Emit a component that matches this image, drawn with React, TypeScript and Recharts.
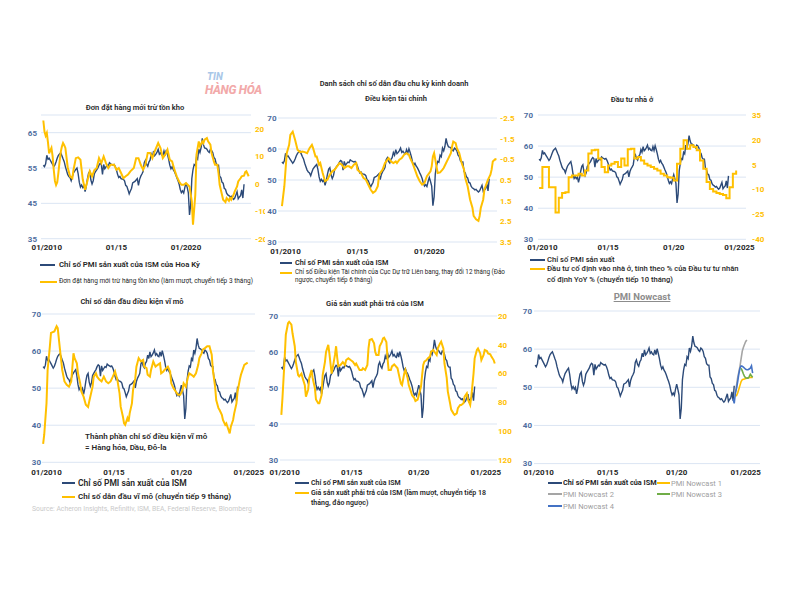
import { LineChart, Line, XAxis, YAxis, CartesianGrid } from "recharts";

const FONT = "Roboto, 'Noto Sans', Arial, sans-serif";
const NAVY = "#2c4a78";
const GOLD = "#ffc000";
const GRID = "#dbe5f3";
const AXIS_BLUE = "#4e6e9f";
const DARK = "#262626";

// month index: 0 = 10/2009
const janTicks = [3, 63, 123, 183];
const labelsShort = ["01/2010", "01/15", "01/2020"];
const labelsLong = ["01/2010", "01/15", "01/20", "01/2025"];

// ISM manufacturing PMI, monthly 10/2009 - 03/2024
const pmi = [
  55.8, 55.4, 56.2,
  58.6, 57.5, 57.8, 57.2, 56.6, 56.0, 55.4, 55.9, 56.8, 57.8, 58.6, 59.0,
  59.3, 58.5, 57.6, 56.8, 55.4, 54.3, 53.2, 52.6, 52.3, 51.4, 52.6, 53.6,
  54.1, 54.6, 55.0, 53.4, 51.0, 49.6, 50.2, 49.5, 50.0, 48.3, 49.8, 51.9,
  53.5, 54.0, 51.6, 50.5, 51.4, 53.4, 54.0, 54.5, 55.0, 55.8, 56.3, 56.0,
  53.2, 56.0, 54.8, 55.3, 55.8, 55.6, 56.5, 56.2, 56.0, 55.8, 56.0, 55.4,
  54.5, 53.2, 52.3, 52.6, 52.0, 51.9, 51.8, 51.4, 50.1, 49.8, 48.8, 47.7,
  48.5, 49.2, 50.8, 51.0, 51.2, 51.6, 52.0, 50.1, 51.8, 52.7, 53.3, 54.0,
  56.5, 57.2, 56.0, 55.5, 56.7, 57.2, 58.9, 58.0, 59.8, 58.5, 58.9, 59.5,
  60.3, 58.9, 59.3, 58.7, 58.5, 59.8, 58.6, 60.1, 58.9, 57.5, 55.8, 54.8,
  55.4, 54.5, 54.0, 53.2, 52.3, 51.5, 50.5, 49.0, 48.0, 48.5, 47.9, 49.5,
  50.8, 49.5, 48.0, 41.7, 44.5, 52.0, 54.5, 56.0, 55.7, 58.0, 57.5, 60.3,
  59.4, 60.8, 63.4, 61.6, 60.7, 60.6, 60.3, 59.7, 59.4, 60.3, 60.0, 59.4,
  58.0, 57.6, 56.2, 55.8, 55.8, 52.7, 52.3, 51.0, 50.7, 49.2, 49.0, 47.9,
  47.4, 47.2, 46.8, 47.0, 46.5, 46.1, 46.5, 47.4, 48.3, 46.3, 46.8, 47.2,
  48.8, 46.5, 50.4,
];

// [month, value]
const newOrdersLessInv: [number, number][] = [
  [0, 23], [1, 19], [2, 17.5], [3, 18.5], [4, 15], [5, 11], [6, 12], [7, 13], [8, 10], [9, 5],
  [10, 1], [11, -0.5], [12, 0.5], [13, 4], [14, 8], [15, 11.5], [16, 13.5], [17, 14.8], [18, 14], [19, 13],
  [21, 6], [23, 2.7], [25, 2], [26, 5], [28, 9.3], [30, 9.6], [32, 8.7], [34, 1.5], [36, -2.2], [38, 1],
  [40, 4.5], [42, 2.7], [44, 5], [46, 5.7], [48, 9.3], [50, 7.5], [52, 9.9], [54, 7.5], [56, 5.7], [58, 6.9],
  [61, 6.9], [63, 5.1], [65, 5.7], [67, 3.9], [69, 2], [71, 2.7], [73, 3.3], [75, 4.5], [78, 5.7], [80, 9.3],
  [82, 9.3], [84, 6.9], [86, 5.1], [88, 6.9], [90, 11.2], [92, 11.2], [94, 9.3], [96, 11.8], [99, 14.8], [101, 13],
  [103, 9.3], [105, 10.5], [107, 12.4], [109, 8.7], [111, 8.1], [113, 5.1], [115, 2.7], [117, 0.8], [119, -0.4], [121, -0.4],
  [123, 0.2], [126, -1], [128, -6.4], [129, -14.9], [131, -4], [132, 10.5], [134, 15.4], [135, 13.6], [137, 15.4], [138, 14.8],
  [139, 16], [141, 16.6], [142, 15.4], [144, 14.2], [145, 11.2], [147, 8.1], [148, 6.9], [150, 6.9], [151, 3.9], [152, -0.4],
  [154, -4], [155, -5.8], [157, -6.7], [158, -5.2], [160, -6.2], [161, -5.2], [162, -5.8], [164, -4], [165, -2.8], [167, -1],
  [168, 0.8], [170, 2], [171, 2.7], [173, 2.9], [174, 4.2], [175, 4.5], [177, 2.7],
];

const fedFci: [number, number][] = [
  [0, 1.76], [2, 0.8], [4, -0.8], [6, -1.2], [7, -1.68], [9, -1.84], [11, -1.44], [13, -0.96], [15, -0.85], [17, -0.88],
  [19, -0.85], [21, -0.8], [23, -1.04], [25, -1.2], [26, -1.04], [28, -0.64], [29, -0.64], [31, -0.24], [32, -0.32], [34, 0.16],
  [36, 0.56], [38, 0.48], [40, 0.24], [42, 0.08], [44, 0], [46, -0.16], [48, -0.32], [50, -0.24], [52, -0.08], [54, -0.16],
  [56, -0.16], [58, -0.08], [60, -0.24], [62, -0.32], [63, 0], [66, 0.16], [68, 0.4], [70, 0.48], [72, 0.72], [74, 0.96],
  [76, 1.12], [78, 1.04], [80, 0.8], [81, 0.32], [82, 0.16], [84, 0], [86, -0.32], [89, -0.56], [91, -0.4], [93, -0.32],
  [95, -0.4], [96, -0.32], [98, -0.48], [100, -0.56], [102, -0.72], [104, -0.8], [106, -0.72], [107, -0.56], [109, -0.32], [111, 0],
  [113, 0.32], [115, 0.56], [117, 0.72], [119, 0.64], [121, 0.32], [122, 0.24], [124, 0.08], [125, -0.16], [126, -0.64], [127, -0.8],
  [129, -0.16], [130, 0.16], [132, 0.13], [134, 0], [135, -0.08], [137, -0.32], [139, -0.56], [141, -0.8], [142, -1.12], [143, -1.36],
  [145, -1.28], [146, -1.04], [148, -0.8], [150, -0.32], [152, 0], [153, 0.4], [155, 0.8], [157, 1.44], [159, 1.84], [160, 2.24],
  [162, 2.4], [164, 2.48], [165, 2.24], [166, 1.84], [168, 1.44], [169, 0.96], [171, 0.64], [172, 0.48], [174, 0.24], [175, 0],
  [176, -0.4], [178, -0.51], [179, -0.48],
];

// residential fixed investment YoY, quarterly from month 0
const housingQuarterly = [
  -9, 3.6, 3.6, -8.6, -8.6, -23.8, -15, -12, -11.6, -2.5,
  -1.5, -1.5, -0.5, -1.5, 1.5, 11.7, 13.7, 14.1, 8.7, 3.6,
  0.5, 4.6, 5.6, 6.6, 3.6, 8.7, 4.6, 14.3, 14.7, 8.7,
  9.7, 7.6, 5.6, 4.6, 3.6, 2.6, 1.5, -0.5, -1.5, -2.5,
  -2.9, -4.5, 5.6, 14.7, 19.8, 14.7, 16.8, 15.7, 13.7, 7.6,
  2.6, -5.5, -9.6, -11.2, -12, -12.6, -13.2, -15.3, -8.6, -0.5,
  1.5,
];

const macroLeading: [number, number][] = [
  [0, 35], [1, 37.5], [3, 45.9], [4, 54.9], [6, 61.3], [7, 64.9], [10, 65.3], [12, 66.7], [13, 66.2], [15, 60.4],
  [17, 54.9], [19, 51.8], [21, 50.9], [23, 50.4], [25, 51.8], [27, 59.4], [28, 58.1], [30, 56.7], [31, 54], [33, 51.3],
  [34, 49.1], [36, 47.7], [38, 45.5], [40, 44.9], [41, 46.4], [44, 50.4], [45, 53.1], [47, 54], [48, 53.1], [50, 52.3],
  [52, 51.8], [54, 53.1], [56, 51.8], [58, 51.3], [60, 51.8], [62, 53.1], [64, 54.5], [66, 52.3], [68, 48.6], [69, 45],
  [71, 42.3], [72, 40.5], [73, 40.1], [75, 41.9], [76, 41], [77, 43.2], [79, 45.9], [80, 49.5], [82, 52.7], [83, 55.8],
  [85, 58.1], [87, 57.2], [89, 57.6], [90, 55.8], [92, 55.4], [93, 53.6], [95, 53.1], [96, 54.9], [98, 57.2], [100, 55.8],
  [102, 56.3], [104, 56.7], [105, 54], [107, 54.5], [108, 54.9], [111, 55.8], [113, 54.5], [114, 51.3], [116, 50], [118, 49.1],
  [120, 48.2], [122, 48.2], [124, 49.5], [125, 51.3], [127, 50.4], [129, 53.1], [130, 54], [132, 53.6], [134, 53.1], [136, 54],
  [138, 56.3], [139, 58.1], [141, 59.4], [142, 60.4], [144, 60.8], [146, 61.3], [148, 61.3], [150, 59], [151, 54.9], [153, 50.4],
  [154, 46.8], [156, 44.6], [157, 44.1], [159, 42.8], [160, 41.4], [162, 40.1], [163, 40.5], [164, 39.6], [166, 37.8], [167, 39.6],
  [169, 41.4], [170, 43.2], [172, 45.9], [173, 49.1], [175, 52.3], [176, 53.6], [178, 55.4], [179, 56.3], [181, 56.7], [182, 56.9],
];

const pricesPaid: [number, number][] = [
  [0, 88.7], [1, 77], [3, 49], [4, 33], [6, 25], [7, 24], [9, 26], [10, 32], [12, 41], [13, 52],
  [15, 61], [16, 62], [18, 60], [19, 63], [21, 68], [22, 76], [24, 71], [25, 63], [27, 57.5], [28, 63],
  [30, 70], [31, 78], [33, 80.6], [34, 80.6], [36, 75], [37, 61], [39, 52], [40, 45], [42, 40], [43, 46],
  [44, 53], [45, 60], [46, 56], [48, 47], [49, 41], [50, 49], [51, 55], [53, 54], [55, 52], [57, 54],
  [58, 50.6], [60, 49.4], [62, 50.6], [64, 51.7], [66, 54], [67, 53], [69, 56], [70, 57.5], [72, 57.5], [73, 56.3],
  [75, 57.5], [77, 54], [78, 42.5], [79, 36.7], [81, 36], [83, 39], [84, 44.8], [85, 47], [87, 47], [88, 41],
  [90, 38], [91, 35.5], [92, 35], [94, 38], [95, 49], [96, 57.5], [98, 57.5], [99, 55], [101, 53.6], [102, 54.5],
  [104, 56.3], [105, 60], [107, 67], [108, 68], [110, 60], [111, 57.5], [113, 63], [114, 68], [116, 72.5], [117, 75],
  [119, 77], [120, 79], [122, 78], [123, 75], [125, 69], [126, 61], [127, 54], [128, 51.7], [130, 50.6], [131, 49.4],
  [133, 48.2], [134, 44.8], [136, 43.6], [137, 44.8], [139, 47], [140, 42.5], [142, 39], [143, 37.8], [145, 42.5], [146, 53],
  [148, 63], [149, 72.5], [151, 80.6], [152, 85], [154, 87.6], [155, 88.7], [157, 87.6], [158, 84], [160, 81.8], [161, 81.8],
  [163, 80.6], [164, 76], [166, 73.7], [167, 78], [169, 81.8], [170, 76], [172, 60], [173, 49.4], [175, 43.6], [176, 42.5],
  [178, 46], [179, 50.6], [181, 47], [182, 43.6], [184, 44.3], [185, 46], [187, 46.6], [188, 48.2], [190, 50.6], [191, 53],
];

const nowcast1 = [47.7, 47.8, 48.5, 49.5, 50.5, 51.5, 52.0, 52.1, 52.2, 52.3, 52.4, 52.5, 52.5, 52.6, 52.6, 52.6]; // from month 174
const nowcast2 = [48.5, 50.5, 52.5, 54.0, 55.5, 57.5, 59.5, 60.5, 61.3, 62.0, 62.4]; // from month 174
const nowcast3 = [55.0, 54.3, 53.5, 52.8, 52.5, 52.4, 52.4, 52.8, 53.4, 53.0, 52.6]; // from month 179
const nowcast4 = [47.0, 45.8, 48.5, 49.7, 51.5, 53.5, 55.0, 55.6, 55.5, 55.3, 55.0, 54.7, 54.6, 54.6, 54.8, 55.0, 55.6, 53.7]; // from month 172

type Row = { m: number; v: number };
const fromPairs = (pts: [number, number][]): Row[] => pts.map(([m, v]) => ({ m, v }));
const fromSeries = (start: number, step: number, vals: number[]): Row[] => vals.map((v, i) => ({ m: start + i * step, v }));

const pmiRows = fromSeries(0, 1, pmi);

type Series = { rows: Row[]; color: string; width: number; axis: 0 | "r"; step?: boolean };
type RightAxis = { domain: [number, number]; ticks: number[]; reversed?: boolean; gap: number };
type PanelProps = {
  x0: number; x1: number; y0: number; y1: number;
  xDomain: [number, number]; xLabels: string[]; xGap: number;
  leftDomain: [number, number]; leftTicks: number[]; leftGap: number;
  right?: RightAxis;
  series: Series[];
};

const LW = 26, RW = 30, MT = 8, XH = 20;

function Panel(p: PanelProps) {
  const rw = p.right ? RW : 0;
  const mr = p.right ? 0 : 20;
  const width = p.x1 - p.x0 + LW + rw + mr;
  const height = p.y1 - p.y0 + MT + XH;
  const tick = { fontSize: 8, fontWeight: 700, fontFamily: FONT };
  const ticks = janTicks.slice(0, p.xLabels.length);
  return (
    <div style={{ position: "absolute", left: p.x0 - LW, top: p.y0 - MT }}>
      <LineChart width={width} height={height} margin={{ top: MT, right: mr, bottom: 0, left: 0 }}>
        <CartesianGrid vertical={false} stroke={GRID} strokeWidth={1} />
        <XAxis
          type="number" dataKey="m" domain={p.xDomain} allowDataOverflow
          ticks={ticks} interval={0} tickFormatter={(v: number) => p.xLabels[ticks.indexOf(v)]}
          axisLine={false} tickLine={false} tickSize={0} tickMargin={p.xGap} height={XH}
          tick={{ ...tick, fill: DARK }}
        />
        <YAxis
          domain={p.leftDomain} ticks={p.leftTicks} interval={0} allowDataOverflow width={LW}
          axisLine={false} tickLine={false} tickSize={0} tickMargin={p.leftGap}
          tick={{ ...tick, fill: AXIS_BLUE }}
        />
        {p.right && (
          <YAxis
            yAxisId="r" orientation="right" domain={p.right.domain} ticks={p.right.ticks} reversed={p.right.reversed}
            interval={0} allowDataOverflow width={RW} axisLine={false} tickLine={false} tickSize={0}
            tickMargin={p.right.gap} tick={{ ...tick, fill: GOLD }}
          />
        )}
        {p.series.map((s, i) => (
          <Line
            key={i} yAxisId={s.axis} data={s.rows} dataKey="v" type={s.step ? "stepAfter" : "linear"}
            stroke={s.color} strokeWidth={s.width} dot={false} activeDot={false} isAnimationActive={false}
          />
        ))}
      </LineChart>
    </div>
  );
}

function Txt(props: { x: number; y: number; size: number; text: string; color?: string; weight?: number; center?: boolean; style?: any }) {
  const lh = props.size * 1.2;
  const base: any = {
    position: "absolute", top: props.y - lh / 2, fontSize: props.size, lineHeight: `${lh}px`,
    fontFamily: FONT, color: props.color || DARK, fontWeight: props.weight || 600, whiteSpace: "nowrap",
  };
  if (props.center) {
    base.left = props.x - 200; base.width = 400; base.textAlign = "center";
  } else base.left = props.x;
  return <div style={{ ...base, ...props.style }}>{props.text}</div>;
}

function Swatch(props: { x1: number; x2: number; y: number; color: string; h?: number }) {
  const h = props.h || 2;
  return <div style={{ position: "absolute", left: props.x1, top: props.y - h / 2, width: props.x2 - props.x1, height: h, background: props.color }} />;
}

const pmiLine = (w = 1.4): Series => ({ rows: pmiRows, color: NAVY, width: w, axis: 0 });
const ticks3070 = [30, 40, 50, 60, 70];

export default function App() {
  return (
    <div style={{ position: "absolute", left: 0, top: 0, width: 800, height: 600, background: "#fff", overflow: "hidden", fontFamily: FONT }}>
      {/* watermark */}
      <Txt x={207} y={77} size={10} text="TIN" color="#a9c7e8" weight={800} style={{ fontStyle: "italic" }} />
      <Txt x={205} y={90.5} size={12} text="HÀNG HÓA" color="#f2a9a9" weight={800} style={{ fontStyle: "italic", letterSpacing: -0.3 }} />

      <Txt x={394} y={83} size={7.5} center text="Danh sách chỉ số dẫn đầu chu kỳ kinh doanh" />
      <Txt x={396} y={98} size={7.5} center text="Điều kiện tài chính" />
      <Txt x={135} y={107} size={7.5} center text="Đơn đặt hàng mới trừ tồn kho" />
      <Txt x={632} y={99} size={7.5} center text="Đầu tư nhà ở" />
      <Txt x={132} y={301} size={7.5} center text="Chỉ số dẫn đầu điều kiện vĩ mô" />
      <Txt x={375} y={303} size={7.5} center text="Giá sản xuất phải trả của ISM" />
      <Txt x={642} y={297} size={9.5} center weight={700} color="#8c8c8c" text="PMI Nowcast" style={{ textDecoration: "underline" }} />

      {/* panel 1 */}
      <Panel
        x0={41} x1={251} y0={115.3} y1={239} xDomain={[-2, 179]} xLabels={labelsShort} xGap={5.5}
        leftDomain={[35, 70]} leftTicks={[35, 45, 55, 65]} leftGap={4}
        right={{ domain: [-20, 25], ticks: [-20, -10, 0, 10, 20], gap: 4 }}
        series={[pmiLine(), { rows: fromPairs(newOrdersLessInv), color: GOLD, width: 2, axis: "r" }]}
      />
      <Swatch x1={40} x2={55} y={265} color={NAVY} />
      <Txt x={59} y={265} size={7.8} text="Chỉ số PMI sản xuất của ISM của Hoa Kỳ" />
      <Swatch x1={40} x2={57} y={282} color={GOLD} h={2.5} />
      <Txt x={59} y={282} size={6.5} weight={400} text="Đơn đặt hàng mới trừ hàng tồn kho (làm mượt, chuyển tiếp 3 tháng)" />

      {/* panel 2 */}
      <div style={{ position: "absolute", left: 265, top: 110, width: 255, height: 148, background: "#fff" }} />
      <Panel
        x0={278} x1={497} y0={118} y1={242} xDomain={[-3.3, 179.5]} xLabels={labelsShort} xGap={6.5}
        leftDomain={[30, 70]} leftTicks={ticks3070} leftGap={1.5}
        right={{ domain: [-2.5, 3.5], ticks: [-2.5, -1.5, -0.5, 0.5, 1.5, 2.5, 3.5], reversed: true, gap: 3 }}
        series={[pmiLine(), { rows: fromPairs(fedFci), color: GOLD, width: 2, axis: "r" }]}
      />
      <Swatch x1={280} x2={292} y={263} color={NAVY} />
      <Txt x={295} y={263} size={7.3} text="Chỉ số PMI sản xuất của ISM" />
      <Swatch x1={280} x2={292} y={273} color={GOLD} h={2.5} />
      <Txt x={295} y={273} size={6.3} weight={400} text="Chỉ số Điều kiện Tài chính của Cục Dự trữ Liên bang, thay đổi 12 tháng (Đảo" />
      <Txt x={295} y={281} size={6.3} weight={400} text="ngược, chuyển tiếp 6 tháng)" />

      {/* panel 3 */}
      <Panel
        x0={538} x1={746} y0={115} y1={239.3} xDomain={[-1, 189]} xLabels={labelsLong} xGap={5}
        leftDomain={[30, 70]} leftTicks={ticks3070} leftGap={5}
        right={{ domain: [-40, 35], ticks: [-40, -25, -10, 5, 20, 35], gap: 6 }}
        series={[pmiLine(), { rows: fromSeries(0, 3, housingQuarterly), color: GOLD, width: 2, axis: "r", step: true }]}
      />
      <Swatch x1={530} x2={545} y={260} color={NAVY} />
      <Txt x={547} y={260} size={7.6} weight={500} text="Chỉ số PMI sản xuất" />
      <Swatch x1={530} x2={545} y={269} color={GOLD} h={2.5} />
      <Txt x={547} y={269} size={7.6} weight={500} text="Đầu tư cố định vào nhà ở, tính theo % của Đầu tư tư nhân" />
      <Txt x={547} y={280} size={7.6} weight={500} text="cố định YoY % (chuyển tiếp 10 tháng)" />

      {/* panel 4 */}
      <Panel
        x0={42} x1={255} y0={314} y1={462.3} xDomain={[-1, 188.5]} xLabels={labelsLong} xGap={7}
        leftDomain={[30, 70]} leftTicks={ticks3070} leftGap={1}
        series={[pmiLine(), { rows: fromPairs(macroLeading), color: GOLD, width: 2, axis: 0 }]}
      />
      <Txt x={85} y={437} size={8} text="Thành phần chỉ số điều kiện vĩ mô" />
      <Txt x={85} y={448} size={8} text="= Hàng hóa, Dầu, Đô-la" />
      <Swatch x1={62} x2={75} y={483} color={NAVY} />
      <Txt x={78} y={483} size={8.5} text="Chỉ số PMI sản xuất của ISM" />
      <Swatch x1={62} x2={75} y={497} color={GOLD} h={2.5} />
      <Txt x={78} y={497} size={8} text="Chỉ số dẫn đầu vĩ mô (chuyển tiếp 9 tháng)" />
      <Txt x={32} y={509} size={6.8} weight={400} color="#c9c9c9" text="Source: Acheron Insights, Refinitiv, ISM, BEA, Federal Reserve, Bloomberg" />

      {/* panel 5 */}
      <Panel
        x0={280} x1={497} y0={316} y1={460} xDomain={[-1.2, 193]} xLabels={labelsLong} xGap={9.5}
        leftDomain={[30, 70]} leftTicks={ticks3070} leftGap={2}
        right={{ domain: [20, 120], ticks: [20, 40, 60, 80, 100, 120], reversed: true, gap: 1 }}
        series={[pmiLine(), { rows: fromPairs(pricesPaid), color: GOLD, width: 2, axis: "r" }]}
      />
      <Swatch x1={295} x2={309} y={483} color={NAVY} />
      <Txt x={311} y={483} size={7} text="Chỉ số PMI sản xuất của ISM" />
      <Swatch x1={295} x2={309} y={493} color={GOLD} h={2.5} />
      <Txt x={311} y={493} size={7} text="Giá sản xuất phải trả của ISM (làm mượt, chuyển tiếp 18" />
      <Txt x={311} y={503} size={7} text="tháng, đảo ngược)" />

      {/* panel 6 */}
      <Panel
        x0={534} x1={760} y0={310.7} y1={463.3} xDomain={[-1, 195.4]} xLabels={labelsLong} xGap={6}
        leftDomain={[30, 70]} leftTicks={ticks3070} leftGap={2}
        series={[
          pmiLine(),
          { rows: fromSeries(174, 1, nowcast1), color: GOLD, width: 1.6, axis: 0 },
          { rows: fromSeries(174, 1, nowcast2), color: "#a5a5a5", width: 1.6, axis: 0 },
          { rows: fromSeries(179, 1, nowcast3), color: "#70ad47", width: 1.6, axis: 0 },
          { rows: fromSeries(172, 1, nowcast4), color: "#4472c4", width: 1.6, axis: 0 },
        ]}
      />
      <Swatch x1={548} x2={562} y={483} color={NAVY} />
      <Txt x={563} y={483} size={7.3} weight={700} text="Chỉ số PMI sản xuất của ISM" />
      <Swatch x1={657} x2={670} y={483} color={GOLD} />
      <Txt x={671} y={483} size={7.5} weight={400} color="#a0a0a0" text="PMI Nowcast 1" />
      <Swatch x1={548} x2={562} y={494} color="#a5a5a5" />
      <Txt x={563} y={494} size={7.5} weight={400} color="#a0a0a0" text="PMI Nowcast 2" />
      <Swatch x1={657} x2={670} y={494} color="#70ad47" />
      <Txt x={671} y={494} size={7.5} weight={400} color="#a0a0a0" text="PMI Nowcast 3" />
      <Swatch x1={548} x2={562} y={506} color="#4472c4" />
      <Txt x={563} y={506} size={7.5} weight={400} color="#a0a0a0" text="PMI Nowcast 4" />
    </div>
  );
}
